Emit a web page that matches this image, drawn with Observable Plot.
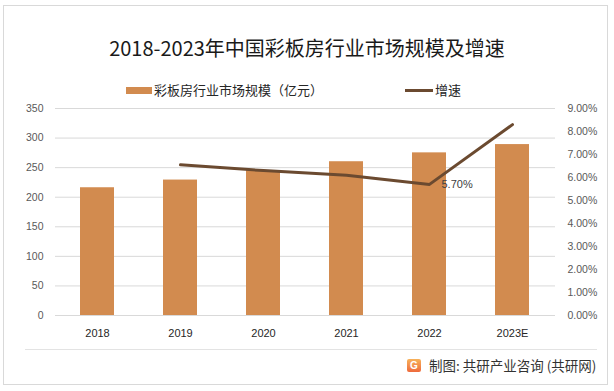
<!DOCTYPE html>
<html><head><meta charset="utf-8">
<script src="https://cdn.jsdelivr.net/npm/d3@7"></script>
<script src="https://cdn.jsdelivr.net/npm/@observablehq/plot@0.6"></script>
<style>
body{margin:0;background:#fff;}
#wrap{position:relative;width:614px;height:391px;overflow:hidden;font-family:"Noto Sans CJK SC","Noto Sans",sans-serif;background:#fff;}
#frame{position:absolute;left:3px;top:5px;width:603px;height:378px;border:1px solid #d9d9d9;box-sizing:content-box;}
#title{position:absolute;left:0;width:614px;top:35px;text-align:center;font-size:20px;color:#1a1a1a;line-height:26px;}
.leg{position:absolute;top:81px;font-size:13px;line-height:18px;color:#262626;white-space:nowrap;}
.sw{position:absolute;}
#chart{position:absolute;left:0;top:100px;}
#sep{position:absolute;left:25px;top:349px;width:572px;height:1px;background:#e3e3e3;}
#logo{position:absolute;left:407px;top:359px;width:14px;height:13px;border-radius:2px;background:linear-gradient(180deg,#f7b25a,#ee6a3c);color:#fff;font:bold 10px/13px "Liberation Sans",Arial,sans-serif;text-align:center;}
#foot{position:absolute;left:429px;top:356px;font-size:13.5px;line-height:18px;color:#333;white-space:nowrap;}
</style></head>
<body>
<div id="wrap">
  <div id="frame"></div>
  <div id="title">2018-2023年中国彩板房行业市场规模及增速</div>
  <div class="sw" style="left:126px;top:87px;width:26px;height:7px;background:#d28b4f"></div>
  <div class="leg" style="left:154px">彩板房行业市场规模（亿元）</div>
  <div class="sw" style="left:405px;top:89px;width:28px;height:3px;background:#6b4a30"></div>
  <div class="leg" style="left:435px">增速</div>
  <div id="chart"></div>
  <div id="sep"></div>
  <div id="logo">G</div>
  <div id="foot">制图: 共研产业咨询 (共研网)</div>
</div>
<script>
const years = ["2018","2019","2020","2021","2022","2023E"];
const marketSize = [216,229,245,260,275,289];
const growthYears = ["2019","2020","2021","2022","2023E"];
const growthRate = [6.55,6.3,6.1,5.7,8.3];
const leftTicks = [0,50,100,150,200,250,300,350];
const rightTicks = [0,1,2,3,4,5,6,7,8,9];
const labeledYear = "2022";

const k = 350/9;
const bars = years.map((y,i)=>({year:y,value:marketSize[i]}));
const line = growthYears.map((y,i)=>({year:y,g:growthRate[i]}));

const chart = Plot.plot({
  width:614, height:245,
  marginTop:8, marginBottom:30, marginLeft:55, marginRight:59,
  style:{fontFamily:"'Liberation Sans',Arial,sans-serif",fontSize:"10.5px",color:"#595959",background:"transparent"},
  x:{domain:years,paddingInner:0.59,paddingOuter:0.295,label:null},
  y:{domain:[0,350],label:null},
  marks:[
    Plot.gridY(leftTicks,{stroke:"#d9d9d9",strokeOpacity:1}),
    Plot.barY(bars,{x:"year",y:"value",fill:"#d28b4f"}),
    Plot.line(line,{x:"year",y:d=>d.g*k,stroke:"#6b4a30",strokeWidth:3}),
    Plot.text(line.filter(d=>d.year===labeledYear),{x:"year",y:d=>d.g*k,text:d=>d.g.toFixed(2)+"%",dx:12,textAnchor:"start",fill:"#404040",fontSize:11}),
    Plot.axisY({anchor:"left",ticks:leftTicks,tickSize:0,tickPadding:12,label:null}),
    Plot.axisY({anchor:"right",ticks:rightTicks.map(p=>p*k),tickFormat:d=>(d/k).toFixed(2)+"%",tickSize:0,tickPadding:12,label:null}),
    Plot.axisX({tickSize:0,tickPadding:14,color:"#262626",fontSize:11,label:null})
  ]
});
document.getElementById("chart").appendChild(chart);
</script>
</body></html>
